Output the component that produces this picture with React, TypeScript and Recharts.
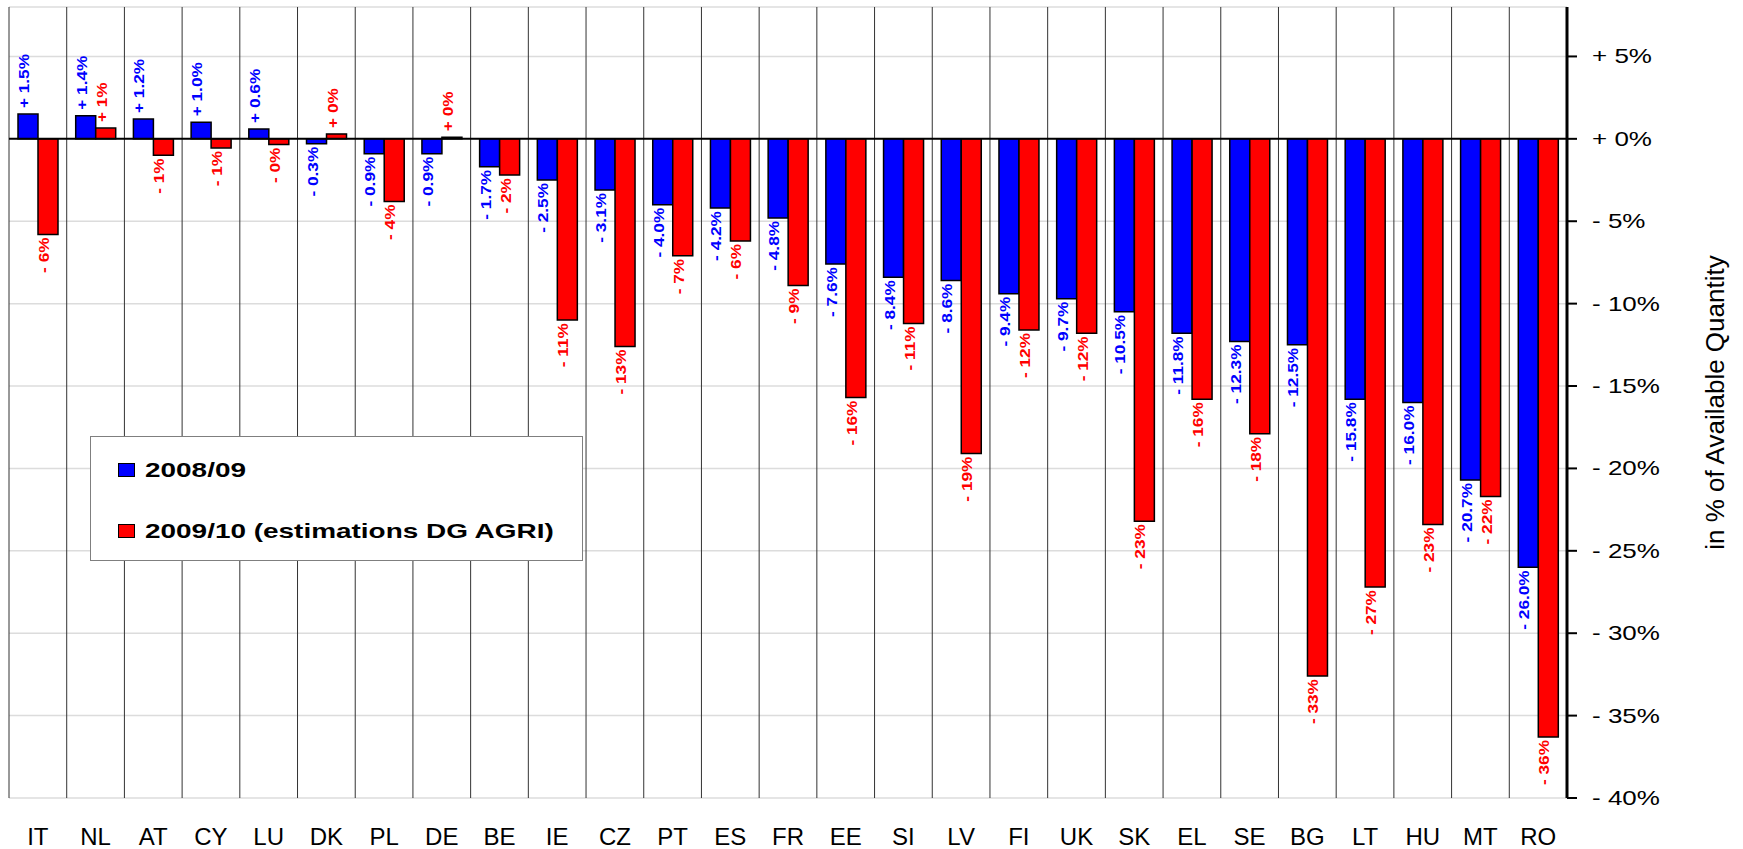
import React from 'react';
import {
  BarChart,
  Bar,
  XAxis,
  YAxis,
  CartesianGrid,
  ReferenceLine,
  Legend,
  LabelList,
  Label,
} from 'recharts';

const countries = [
  'IT', 'NL', 'AT', 'CY', 'LU', 'DK', 'PL', 'DE', 'BE', 'IE', 'CZ', 'PT', 'ES', 'FR',
  'EE', 'SI', 'LV', 'FI', 'UK', 'SK', 'EL', 'SE', 'BG', 'LT', 'HU', 'MT', 'RO',
];

// 2008/09
const season0809 = [
  1.5, 1.4, 1.2, 1.0, 0.6, -0.3, -0.9, -0.9, -1.7, -2.5, -3.1, -4.0, -4.2, -4.8,
  -7.6, -8.4, -8.6, -9.4, -9.7, -10.5, -11.8, -12.3, -12.5, -15.8, -16.0, -20.7, -26.0,
];

// 2009/10 (estimations DG AGRI)
const season0910 = [
  -5.8, 0.65, -1.0, -0.55, -0.35, 0.3, -3.8, 0.1, -2.2, -11.0, -12.6, -7.1, -6.2, -8.9,
  -15.7, -11.2, -19.1, -11.6, -11.8, -23.2, -15.8, -17.9, -32.6, -27.2, -23.4, -21.7, -36.3,
];

const yTicks = [5, 0, -5, -10, -15, -20, -25, -30, -35, -40];

const BLUE = '#0000ff';
const RED = '#ff0000';
const FONT = '"Liberation Sans", Arial, Helvetica, sans-serif';

const data = countries.map((country, i) => ({
  country,
  s0809: season0809[i],
  s0910: season0910[i],
}));

const SERIES_COLORS: Record<string, string> = { s0809: BLUE, s0910: RED };

function fmtPct(v: number, digits: number) {
  const sign = v >= 0 ? '+' : '-';
  return `${sign} ${Math.abs(v).toFixed(digits)}%`;
}

function makeBarLabel(color: string, digits: number) {
  return (props: any) => {
    const x = Number(props.x);
    const y = Number(props.y);
    const w = Number(props.width);
    const h = Number(props.height);
    const v = Number(props.value);
    const top = Math.min(y, y + h);
    const bottom = Math.max(y, y + h);
    const cx = x + w / 2 + 1;
    const pos = v >= 0;
    const ay = pos ? top - 6 : bottom + 3;
    return (
      <text
        transform={`translate(${cx},${ay}) rotate(-90) scale(1.15,1)`}
        textAnchor={pos ? 'start' : 'end'}
        fill={color}
        fontSize={15}
        fontWeight="bold"
        fontFamily={FONT}
      >
        {fmtPct(v, digits)}
      </text>
    );
  };
}

function CountryTick({ x, y, payload }: any) {
  return (
    <text
      x={Number(x)}
      y={Number(y) + 47}
      textAnchor="middle"
      fontSize={24}
      fill="#000"
      fontFamily={FONT}
    >
      {payload.value}
    </text>
  );
}

function PctTick({ x, y, payload }: any) {
  const v = Number(payload.value);
  const text = `${v >= 0 ? '+' : '-'} ${Math.abs(v)}%`;
  return (
    <text
      transform={`translate(${x},${y}) scale(1.3,1)`}
      dy="0.35em"
      textAnchor="start"
      fontSize={20}
      fill="#000"
      fontFamily={FONT}
    >
      {text}
    </text>
  );
}

function AxisTitle({ viewBox }: any) {
  const cx = viewBox.x + 157;
  const cy = viewBox.y + viewBox.height / 2;
  return (
    <text
      transform={`translate(${cx},${cy}) rotate(-90)`}
      textAnchor="middle"
      fontSize={26}
      fill="#000"
      fontFamily={FONT}
    >
      in % of Available Quantity
    </text>
  );
}

function LegendBox({ payload }: any) {
  return (
    <div
      style={{
        width: '100%',
        height: '100%',
        boxSizing: 'border-box',
        border: '1px solid #7f7f7f',
        background: '#fff',
        position: 'relative',
        fontFamily: FONT,
      }}
    >
      {(payload || []).map((p: any, i: number) => (
        <div
          key={String(p.dataKey)}
          style={{
            position: 'absolute',
            left: 27,
            top: i === 0 ? 19 : 80,
            height: 28,
            display: 'flex',
            alignItems: 'center',
          }}
        >
          <span
            style={{
              display: 'inline-block',
              width: 17,
              height: 14,
              boxSizing: 'border-box',
              border: '1px solid #000',
              background: SERIES_COLORS[String(p.dataKey)],
            }}
          />
          <span
            style={{
              marginLeft: 10,
              fontSize: 21,
              fontWeight: 'bold',
              color: '#000',
              whiteSpace: 'nowrap',
              display: 'inline-block',
              transform: 'scaleX(1.33)',
              transformOrigin: 'left center',
            }}
          >
            {p.value}
          </span>
        </div>
      ))}
    </div>
  );
}

export default function App() {
  return (
    <div style={{ position: 'absolute', left: 0, top: 0, background: '#fff' }}>
      <BarChart
        width={1743}
        height={849}
        data={data}
        margin={{ top: 7, right: 0, left: 9, bottom: 0 }}
        barGap={0}
        style={{ fontFamily: FONT }}
      >
        <CartesianGrid vertical={false} stroke="#dcdcdc" strokeWidth={1.5} />
        <CartesianGrid
          horizontal={false}
          stroke="#333"
          strokeWidth={1}
          verticalCoordinatesGenerator={({ offset }: any) =>
            Array.from(
              { length: countries.length + 1 },
              (_, i) => offset.left + (i * offset.width) / countries.length,
            )
          }
        />
        <XAxis
          dataKey="country"
          height={51}
          axisLine={false}
          tickLine={false}
          tickSize={0}
          tickMargin={0}
          interval={0}
          tick={<CountryTick />}
        />
        <YAxis
          orientation="right"
          width={176}
          domain={[-40, 8]}
          ticks={yTicks}
          allowDataOverflow
          axisLine={{ stroke: '#000', strokeWidth: 3 }}
          tickLine={{ stroke: '#000', strokeWidth: 2 }}
          tickSize={10}
          tickMargin={15}
          tick={<PctTick />}
        >
          <Label content={<AxisTitle />} />
        </YAxis>
        <ReferenceLine y={0} stroke="#000" strokeWidth={2} />
        <Legend
          layout="vertical"
          align="center"
          verticalAlign="middle"
          content={<LegendBox />}
          wrapperStyle={{ left: 90, top: 436, width: 493, height: 125 }}
        />
        <Bar
          dataKey="s0809"
          name="2008/09"
          fill={BLUE}
          stroke="#000"
          strokeWidth={1.5}
          barSize={20}
          isAnimationActive={false}
        >
          <LabelList dataKey="s0809" content={makeBarLabel(BLUE, 1)} />
        </Bar>
        <Bar
          dataKey="s0910"
          name="2009/10 (estimations DG AGRI)"
          fill={RED}
          stroke="#000"
          strokeWidth={1.5}
          barSize={20}
          isAnimationActive={false}
        >
          <LabelList dataKey="s0910" content={makeBarLabel(RED, 0)} />
        </Bar>
      </BarChart>
    </div>
  );
}
